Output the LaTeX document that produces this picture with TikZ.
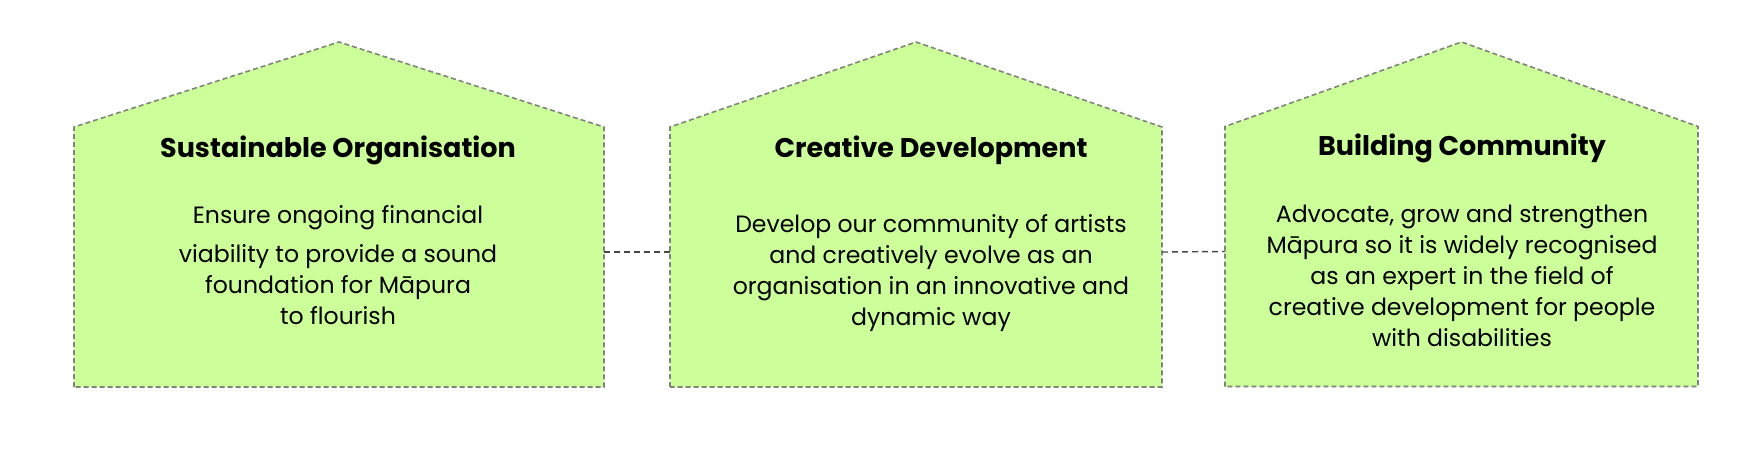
\documentclass[tikz,border=0pt]{standalone}
\usepackage{fontspec}
\setmainfont{Poppins}
\definecolor{housefill}{RGB}{204,255,153}
\definecolor{houseline}{RGB}{128,132,122}
\definecolor{connline}{RGB}{70,70,70}
\begin{document}
\begin{tikzpicture}[x=1pt,y=-1pt,
  wall/.style={minimum width=#1, minimum height=260pt, inner sep=0pt, outer sep=0pt},
  house/.style={fill=housefill, draw=houseline, line width=1.6pt, dash pattern=on 5pt off 3pt},
  conn/.style={draw=connline, line width=1.4pt, dash pattern=on 6pt off 4pt},
  title/.style={font=\fontsize{27}{31}\selectfont\bfseries, inner sep=0pt, anchor=center},
  body/.style={font=\fontsize{23.6}{31}\selectfont, align=center, inner sep=0pt}]
\useasboundingbox (0,0) rectangle (1752,457);
% wall nodes (body of each house)
\node[wall=530pt] (h1) at (339,257) {};
\node[wall=492pt] (h2) at (916,257) {};
\node[wall=473pt] (h3) at (1461.5,256.5) {};
% house outlines
\draw[house] (h1.south west) -- (h1.north west) -- (h1.north |- 0,42) -- (h1.north east) -- (h1.south east) -- cycle;
\draw[house] (h2.south west) -- (h2.north west) -- (h2.north |- 0,42) -- (h2.north east) -- (h2.south east) -- cycle;
\draw[house] (h3.south west) -- (h3.north west) -- (h3.north |- 0,42) -- (h3.north east) -- (h3.south east) -- cycle;
% connectors
\draw[conn] ([yshift=5pt]h1.east) -- ([yshift=5pt]h2.west);
\draw[conn] ([yshift=5pt]h2.east) -- ([yshift=5pt]h3.west);
% titles
\node[title] (t1) at (338,150) {Sustainable Organisation};
\node[title] (t2) at (931,150) {Creative Development};
\node[title] (t3) at (1462,148) {Building Community};
% body texts
\node[body] (b1) at (338,265) {Ensure ongoing financial\\[8pt]viability to provide a sound\\foundation for Māpura\\to flourish};
\node[body] (b2) at (931,273) {Develop our community of artists\\and creatively evolve as an\\organisation in an innovative and\\dynamic way};
\node[body] (b3) at (1462,276) {Advocate, grow and strengthen\\Māpura so it is widely recognised\\as an expert in the field of\\creative development for people\\with disabilities};
\end{tikzpicture}
\end{document}
